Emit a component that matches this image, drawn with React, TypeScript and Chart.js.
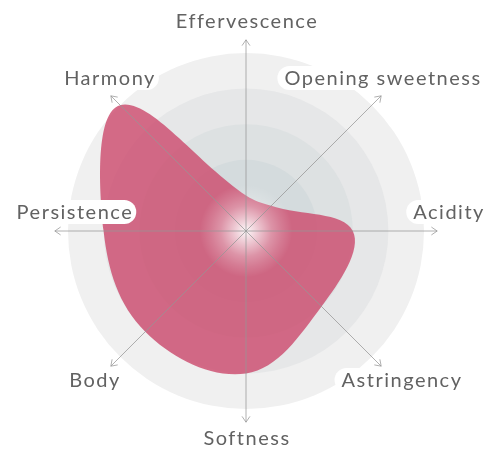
import React, { useEffect, useRef } from "react";
import { Chart, registerables } from "chart.js";

Chart.register(...registerables);

// ---- data ----
const categories = [
  "Effervescence",
  "Opening sweetness",
  "Acidity",
  "Astringency",
  "Softness",
  "Body",
  "Persistence",
  "Harmony",
];
const values = [1, 1, 3, 3, 4, 4, 4, 5];
const ringLevels = [1, 2, 3, 4, 5];
const scaleMax = 5;

// ---- styling / layout (not data) ----
const RING_FILLS = ["#d4dbdd", "#d4dbdd", "#dde1e2", "#e6e7e8", "#f0f0f0"];
const AXIS_VALUE = 5.37;
const LABEL_VALUE = 5.76;
const LABEL_NUDGE: [number, number][] = [
  [0, -5],
  [-9, -8],
  [-3, -19],
  [10, 4],
  [0, 1],
  [-7, 4],
  [33, -19],
  [8, -8],
];

export default function App() {
  const ref = useRef<HTMLCanvasElement>(null);

  useEffect(() => {
    const canvas = ref.current!;
    const decor = {
      id: "decor",
      beforeDatasetsDraw(chart: any) {
        const s = chart.scales.r;
        const c = chart.ctx as CanvasRenderingContext2D;
        c.save();
        for (let k = ringLevels.length - 1; k >= 0; k--) {
          const r = s.getDistanceFromCenterForValue(ringLevels[k]);
          c.beginPath();
          c.arc(s.xCenter, s.yCenter, r, 0, Math.PI * 2);
          c.fillStyle = RING_FILLS[k];
          c.fill();
        }
        c.restore();
      },
      afterDatasetsDraw(chart: any) {
        const s = chart.scales.r;
        const c = chart.ctx as CanvasRenderingContext2D;
        const cx = s.xCenter;
        const cy = s.yCenter;
        c.save();
        // inner glow
        const r1 = s.getDistanceFromCenterForValue(ringLevels[0]) * 1.3;
        const g = c.createRadialGradient(cx, cy, 0, cx, cy, r1);
        g.addColorStop(0, "rgba(255,255,255,0.95)");
        g.addColorStop(0.25, "rgba(255,255,255,0.65)");
        g.addColorStop(0.55, "rgba(255,255,255,0.3)");
        g.addColorStop(0.77, "rgba(255,255,255,0.14)");
        g.addColorStop(1, "rgba(255,255,255,0)");
        c.beginPath();
        c.arc(cx, cy, r1, 0, Math.PI * 2);
        c.fillStyle = g;
        c.fill();

        // axes with arrows
        c.strokeStyle = "rgba(150,150,150,0.75)";
        c.lineWidth = 1;
        const tipDist = s.getDistanceFromCenterForValue(AXIS_VALUE);
        for (let i = 0; i < categories.length; i++) {
          const p = s.getPointPosition(i, tipDist);
          c.beginPath();
          c.moveTo(cx, cy);
          c.lineTo(p.x, p.y);
          c.stroke();
          const a = Math.atan2(p.y - cy, p.x - cx);
          const len = 7;
          c.beginPath();
          c.moveTo(p.x - len * Math.cos(a - 0.6), p.y - len * Math.sin(a - 0.6));
          c.lineTo(p.x, p.y);
          c.lineTo(p.x - len * Math.cos(a + 0.6), p.y - len * Math.sin(a + 0.6));
          c.stroke();
        }

        // labels
        c.font = "20px Lato";
        (c as any).letterSpacing = "1.5px";
        c.textAlign = "center";
        c.textBaseline = "middle";
        const labDist = s.getDistanceFromCenterForValue(LABEL_VALUE);
        for (let i = 0; i < categories.length; i++) {
          const p = s.getPointPosition(i, labDist);
          const x = p.x + LABEL_NUDGE[i][0];
          const y = p.y + LABEL_NUDGE[i][1];
          const w = c.measureText(categories[i]).width;
          c.beginPath();
          (c as any).roundRect(x - w / 2 - 6, y - 12, w + 10, 24, 12);
          c.fillStyle = "#ffffff";
          c.fill();
          c.fillStyle = "#626262";
          c.fillText(categories[i], x + 1, y + 1);
        }
        c.restore();
      },
    };

    const chart = new Chart(canvas, {
      type: "radar",
      data: {
        labels: categories,
        datasets: [
          {
            data: values,
            backgroundColor: "rgba(204, 72, 108, 0.8)",
            borderWidth: 0,
            fill: true,
            pointRadius: 0,
            tension: 0.38,
          },
        ],
      },
      options: {
        animation: false,
        responsive: true,
        maintainAspectRatio: false,
        layout: { padding: { top: 53, bottom: 41, left: 0, right: 0 } },
        plugins: {
          legend: { display: false },
          tooltip: { enabled: false },
        },
        scales: {
          r: {
            min: 0,
            max: scaleMax,
            ticks: { display: false },
            grid: { display: false },
            angleLines: { display: false },
            pointLabels: { display: false },
          },
        },
      },
      plugins: [decor],
    });
    return () => chart.destroy();
  }, []);

  return (
    <div
      style={{
        position: "absolute",
        left: 0,
        top: 0,
        width: 492,
        height: 450,
        background: "#ffffff",
      }}
    >
      <canvas ref={ref} />
    </div>
  );
}
